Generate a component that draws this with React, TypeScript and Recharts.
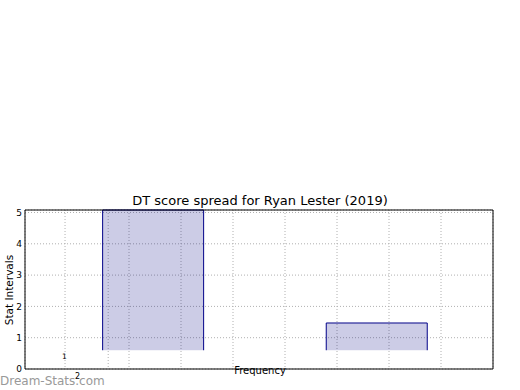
import React from "react";
import { BarChart, Bar, XAxis, YAxis, CartesianGrid } from "recharts";

// Bin centers on the (hidden) x scale, bin lower & upper values on the y scale
const binCenters = [2.47, 6.77];
const binLows = [0.6, 0.6];
const binHighs = [5.08, 1.47];
const yTicks = [0, 1, 2, 3, 4, 5];
const xGridTicks = [0.77, 1.6, 2, 3, 4, 5, 6, 7, 8];
const titleText = "DT score spread for Ryan Lester (2019)";
const xLabelText = "Frequency";
const yLabelText = "Stat Intervals";
const strayLabels = ["1", "2"];

const data = binCenters.map((c, i) => ({ x: c, range: [binLows[i], binHighs[i]] }));

const font = "DejaVu Sans, sans-serif";

const BarShape = (props: any) => {
  let { x, y, width, height } = props;
  if (height < 0) {
    y = y + height;
    height = -height;
  }
  const d = `M${x},${y + height} L${x},${y} L${x + width},${y} L${x + width},${y + height}`;
  return (
    <g>
      <rect x={x} y={y} width={width} height={height} fill="#000080" fillOpacity={0.2} />
      <path d={d} stroke="#000088" strokeWidth={1} fill="none" />
    </g>
  );
};

const NoTick = () => <g />;

export default function App() {
  return (
    <div style={{ position: "absolute", left: 0, top: 0, width: 520, height: 390, background: "#fff", fontFamily: font }}>
      <BarChart
        width={520}
        height={390}
        data={data}
        margin={{ top: 209, right: 0, bottom: 0, left: 0 }}
        barSize={101}
      >
        <CartesianGrid stroke="#b0b0b0" strokeDasharray="1 2" />
        <XAxis
          dataKey="x"
          type="number"
          domain={[0, 9]}
          ticks={xGridTicks}
          tick={NoTick}
          tickLine={false}
          axisLine={{ stroke: "#000" }}
          height={21}
          interval={0}
        />
        <XAxis
          xAxisId="top"
          orientation="top"
          type="number"
          domain={[0, 9]}
          tick={false}
          tickLine={false}
          axisLine={{ stroke: "#000" }}
          height={1}
        />
        <YAxis
          type="number"
          domain={[0, 5]}
          ticks={yTicks}
          width={25}
          tickLine={false}
          tickSize={0}
          tickMargin={3}
          interval={0}
          tick={{ fontSize: 9, fill: "#000", fontFamily: font }}
          axisLine={{ stroke: "#000" }}
        />
        <YAxis
          yAxisId="r"
          orientation="right"
          type="number"
          domain={[0, 5]}
          width={27}
          tick={false}
          tickLine={false}
          axisLine={{ stroke: "#000" }}
        />
        <Bar dataKey="range" shape={BarShape} isAnimationActive={false} />
      </BarChart>
      <div style={{ position: "absolute", left: 0, width: 520, top: 193, textAlign: "center", fontSize: 13, lineHeight: "16px", color: "#000" }}>
        {titleText}
      </div>
      <div style={{ position: "absolute", left: 160, width: 200, top: 365, textAlign: "center", fontSize: 10, lineHeight: "12px", color: "#000" }}>
        {xLabelText}
      </div>
      <div
        style={{
          position: "absolute",
          left: 9 - 50,
          top: 290 - 6,
          width: 100,
          textAlign: "center",
          fontSize: 10.5,
          lineHeight: "12px",
          transform: "rotate(-90deg)",
          color: "#000",
        }}
      >
        {yLabelText}
      </div>
      <div style={{ position: "absolute", left: 62, top: 352, fontSize: 7.5, lineHeight: "10px", color: "#000" }}>{strayLabels[0]}</div>
      <div style={{ position: "absolute", left: 0, top: 374, fontSize: 12, lineHeight: "15px", color: "#999" }}>
        Dream-Stats.com
      </div>
      <div style={{ position: "absolute", left: 75, top: 372, fontSize: 8, lineHeight: "10px", color: "#000" }}>{strayLabels[1]}</div>
    </div>
  );
}
